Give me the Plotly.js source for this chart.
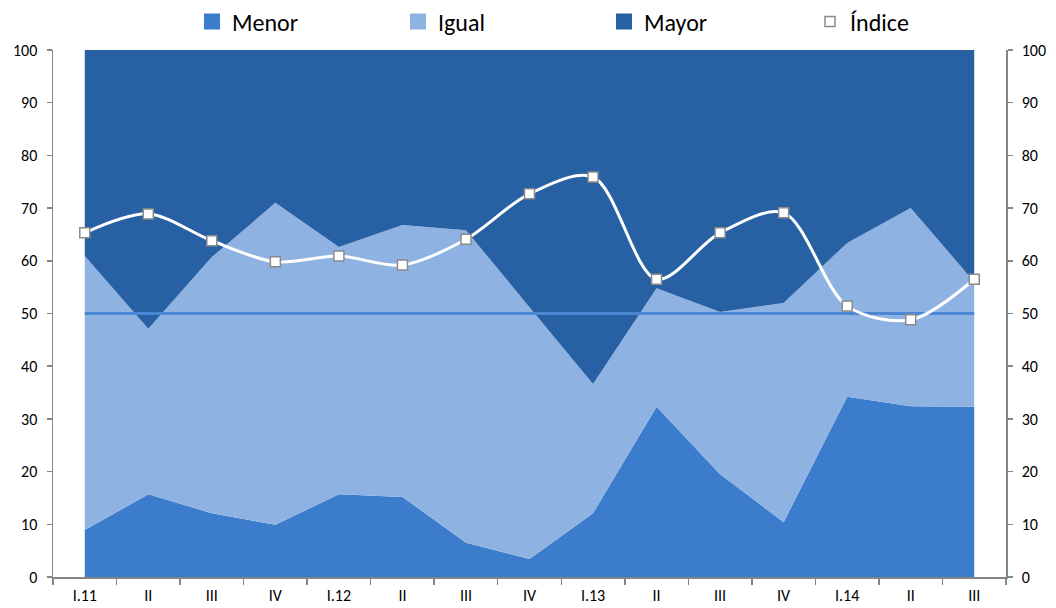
<!DOCTYPE html>
<html>
<head>
<meta charset="utf-8">
<script src="https://cdn.plot.ly/plotly-3.0.1.min.js"></script>
<style>html,body{margin:0;padding:0;background:#fff;}#chart{width:1056px;height:608px;}</style>
</head>
<body>
<div id="chart"></div>
<script>
const categories = ['I.11','II','III','IV','I.12','II','III','IV','I.13','II','III','IV','I.14','II','III'];
const menor  = [8.9, 15.7, 12.1, 9.9, 15.7, 15.2, 6.5, 3.4, 12.1, 32.3, 19.5, 10.4, 34.2, 32.4, 32.3];
const igual  = [52.0, 31.4, 48.6, 61.1, 46.9, 51.6, 59.3, 47.8, 24.5, 22.5, 30.8, 41.6, 29.2, 37.6, 23.7];
const mayor  = [39.1, 52.9, 39.3, 29.0, 37.4, 33.2, 34.2, 48.8, 63.4, 45.2, 49.7, 48.0, 36.6, 30.0, 44.0];
const indice = [65.3, 68.9, 63.8, 59.8, 60.9, 59.2, 64.1, 72.7, 75.9, 56.5, 65.3, 69.1, 51.4, 48.8, 56.5];
const referencia = 50;

const seriesNames = ['Menor', 'Igual', 'Mayor'];
const seriesColors = ['#3B7DCC', '#8EB3E2', '#2761A4'];
const seriesValues = [menor, igual, mayor];

const xs = categories.map((_, i) => i);
const FONT = "Carlito, Calibri, 'Liberation Sans Narrow', 'Liberation Sans', sans-serif";

const traces = [];
// legend keys (square swatches like the original legend)
seriesNames.forEach((n, k) => {
  traces.push({x: [null], y: [null], name: n, mode: 'markers', legendgroup: n,
    marker: {symbol: 'square', size: 16, color: seriesColors[k]}, hoverinfo: 'skip'});
});
// stacked areas
seriesNames.forEach((n, k) => {
  traces.push({x: xs, y: seriesValues[k], name: n, legendgroup: n, showlegend: false,
    stackgroup: 'one', mode: 'none', fillcolor: seriesColors[k], line: {width: 0}, hoverinfo: 'y'});
});
traces.push({x: xs, y: xs.map(() => referencia), mode: 'lines', showlegend: false,
  line: {color: '#4C87D5', width: 3}, hoverinfo: 'skip'});
traces.push({x: xs, y: indice, name: 'Índice', mode: 'lines+markers',
  line: {color: '#FFFFFF', width: 3, shape: 'spline', smoothing: 0.9},
  marker: {symbol: 'square', size: 10, color: '#FFFFFF', line: {color: '#8A8A8A', width: 1.5}}});
traces.push({x: xs, y: indice, yaxis: 'y2', mode: 'none', showlegend: false, hoverinfo: 'skip'});

const axisCommon = {
  range: [0, 100], dtick: 10, ticks: 'outside', ticklen: 5, tickcolor: '#868686', tickwidth: 1.5,
  showgrid: false, zeroline: false, showline: true, linecolor: '#868686', linewidth: 1.5,
  tickfont: {size: 16}, ticklabelstandoff: 6
};

const layout = {
  width: 1056, height: 608,
  margin: {l: 53, r: 50, t: 50, b: 31},
  paper_bgcolor: '#fff', plot_bgcolor: '#fff',
  font: {family: FONT, color: '#000', size: 16},
  showlegend: true,
  legend: {orientation: 'h', xref: 'container', x: 0.1818, xanchor: 'left',
           yref: 'container', y: 0.9638, yanchor: 'middle',
           font: {size: 24, family: FONT, color: '#000'}, traceorder: 'normal',
           itemwidth: 30, entrywidth: 161},
  xaxis: {
    range: [-0.5, categories.length - 0.5],
    tickmode: 'array', tickvals: xs, ticktext: categories, ticks: '', ticklen: 0,
    showgrid: false, zeroline: false,
    showline: true, linecolor: '#868686', linewidth: 1.5,
    minor: {tickmode: 'linear', tick0: -0.5, dtick: 1, ticks: 'outside', ticklen: 6,
            tickcolor: '#868686', tickwidth: 1.5, showgrid: false},
    tickfont: {size: 16}, ticklabelstandoff: 3
  },
  yaxis: Object.assign({}, axisCommon),
  yaxis2: Object.assign({}, axisCommon, {overlaying: 'y', side: 'right'})
};

Plotly.newPlot('chart', traces, layout, {displayModeBar: false, staticPlot: true});
</script>
</body>
</html>
